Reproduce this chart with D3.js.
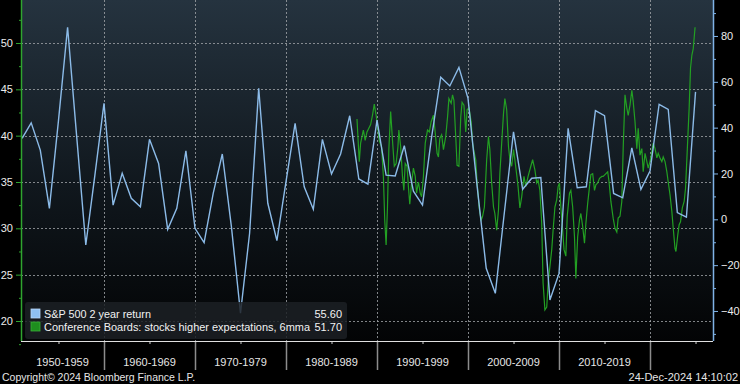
<!DOCTYPE html>
<html>
<head>
<meta charset="utf-8">
<script src="https://cdn.jsdelivr.net/npm/d3@7"></script>
<style>
  body { margin: 0; background: #000; }
  svg { display: block; font-family: "Liberation Sans", Arial, sans-serif; }
  .axis text { fill: #ececec; font-size: 11px; }
  .axis path.domain { display: none; }
</style>
</head>
<body>
<div id="chart"></div>
<script>
// S&P 500 2 year return, one value per calendar year (plotted at year end, right axis)
const spYears = [
  1950, 1951, 1952, 1953, 1954, 1955, 1956, 1957, 1958, 1959,
  1960, 1961, 1962, 1963, 1964, 1965, 1966, 1967, 1968, 1969,
  1970, 1971, 1972, 1973, 1974, 1975, 1976, 1977, 1978, 1979,
  1980, 1981, 1982, 1983, 1984, 1985, 1986, 1987, 1988, 1989,
  1990, 1991, 1992, 1993, 1994, 1995, 1996, 1997, 1998, 1999,
  2000, 2001, 2002, 2003, 2004, 2005, 2006, 2007, 2008, 2009,
  2010, 2011, 2012, 2013, 2014, 2015, 2016, 2017, 2018, 2019,
  2020, 2021, 2022, 2023, 2024
];
const spReturn = [
  35.3, 42.1, 30.2, 4.8, 43.2, 83.8, 36.1, -11.2, 19.3, 50.6,
  6.2, 20.1, 9.2, 5.5, 34.9, 24.4, -4.4, 4.8, 29.9, -3.9,
  -10.2, 11.3, 28.5, -3.2, -41.0, -6.1, 57.2, 7.0, -9.3, 16.4,
  41.9, 14.2, 4.4, 34.9, 19.8, 28.5, 45.2, 17.6, 15.4, 43.3,
  19.3, 18.9, 32.1, 12.3, 6.2, 35.9, 62.0, 58.2, 66.3, 52.8,
  14.5, -21.4, -32.3, 3.2, 38.2, 13.1, 17.9, 18.2, -35.2, -23.6,
  39.7, 13.8, 14.2, 47.4, 45.2, 11.3, 9.4, 31.2, 13.1, 21.1,
  50.2, 48.0, 2.9, 0.9, 55.6
];

// Conference Board: stocks higher expectations, 6mma (left axis), dates as decimal years
const cbDates = [
  1987.8, 1988.05, 1988.2, 1988.5, 1988.7, 1988.9, 1989.1, 1989.3, 1989.5, 1989.7,
  1989.9, 1990.0, 1990.25, 1990.5, 1990.7, 1990.85, 1991.0, 1991.15, 1991.3, 1991.5,
  1991.7, 1991.9, 1992.1, 1992.3, 1992.4, 1992.6, 1992.8, 1992.95, 1993.1, 1993.3,
  1993.45, 1993.6, 1993.8, 1994.0, 1994.2, 1994.35, 1994.55, 1994.75, 1994.9, 1995.1,
  1995.3, 1995.55, 1995.75, 1995.95, 1996.2, 1996.4, 1996.6, 1996.75, 1996.9, 1997.1,
  1997.3, 1997.55, 1997.75, 1997.9, 1998.15, 1998.3, 1998.45, 1998.65, 1998.8, 1999.0,
  1999.2, 1999.35, 1999.55, 1999.75, 1999.9, 2000.1, 2000.35, 2000.5, 2000.7, 2000.85,
  2001.0, 2001.25, 2001.45, 2001.6, 2001.8, 2002.05, 2002.25, 2002.4, 2002.6, 2002.8,
  2002.95, 2003.15, 2003.35, 2003.5, 2003.7, 2003.9, 2004.05, 2004.25, 2004.45, 2004.6,
  2004.8, 2005.0, 2005.15, 2005.35, 2005.5, 2005.7, 2005.9, 2006.15, 2006.35, 2006.6,
  2006.9, 2007.1, 2007.35, 2007.55, 2007.7, 2007.9, 2008.1, 2008.25, 2008.45, 2008.65,
  2008.8, 2009.0, 2009.2, 2009.35, 2009.55, 2009.75, 2009.9, 2010.05, 2010.2, 2010.35,
  2010.55, 2010.75, 2010.9, 2011.15, 2011.3, 2011.5, 2011.7, 2011.85, 2012.05, 2012.25,
  2012.4, 2012.6, 2012.8, 2012.95, 2013.15, 2013.35, 2013.5, 2013.7, 2013.9, 2014.05,
  2014.25, 2014.45, 2014.7, 2014.85, 2015.05, 2015.35, 2015.5, 2015.7, 2015.95, 2016.15,
  2016.35, 2016.5, 2016.7, 2016.9, 2017.05, 2017.25, 2017.45, 2017.6, 2017.8, 2018.0,
  2018.15, 2018.35, 2018.55, 2018.7, 2018.9, 2019.1, 2019.25, 2019.45, 2019.65, 2019.8,
  2020.0, 2020.2, 2020.35, 2020.55, 2020.75, 2020.9, 2021.1, 2021.3, 2021.45, 2021.65,
  2021.85, 2022.0, 2022.2, 2022.4, 2022.55, 2022.75, 2022.85, 2023.05, 2023.2, 2023.35,
  2023.55, 2023.75, 2023.9, 2024.1, 2024.3, 2024.45, 2024.6, 2024.75, 2024.95
];
const cbValues = [
  41.8, 37.2, 39.2, 40.6, 39.5, 40.4, 40.8, 41.2, 42.2, 43.4,
  42.2, 41.5, 39.4, 38.8, 35.6, 30.9, 28.2, 32.3, 38.5, 42.6,
  39.5, 36.7, 37.0, 38.8, 40.6, 38.8, 35.6, 34.1, 37.0, 36.7,
  34.5, 32.6, 34.9, 36.5, 35.6, 33.8, 35.0, 33.8, 33.4, 35.6,
  39.2, 40.6, 40.4, 41.5, 42.2, 40.3, 38.1, 37.7, 39.7, 40.1,
  38.5, 39.9, 42.0, 44.0, 43.5, 44.4, 43.8, 39.9, 36.8, 36.7,
  42.0, 43.6, 43.3, 40.4, 42.8, 43.0, 41.5, 39.2, 38.1, 37.4,
  34.9, 32.0, 30.9, 31.3, 32.3, 37.4, 39.9, 38.5, 34.9, 32.3,
  31.6, 29.8, 32.0, 35.9, 39.2, 42.4, 44.0, 42.8, 38.8, 37.4,
  36.7, 38.5, 37.4, 35.8, 34.5, 32.2, 33.4, 35.6, 34.5, 35.6,
  36.7, 37.4, 36.3, 34.9, 35.2, 34.1, 30.5, 24.1, 21.2, 21.5,
  24.1, 25.9, 27.7, 29.8, 32.3, 33.1, 34.5, 34.9, 32.3, 30.5,
  27.7, 27.0, 31.3, 33.8, 34.1, 32.3, 29.1, 24.6, 29.1, 30.9,
  31.6, 30.2, 28.4, 30.5, 32.7, 34.5, 35.8, 35.9, 34.1, 34.7,
  34.9, 35.4, 35.6, 35.6, 35.8, 36.1, 35.0, 32.9, 31.1, 30.0,
  29.6, 31.1, 31.3, 32.9, 38.6, 44.4, 43.0, 42.2, 43.3, 44.9,
  43.7, 41.5, 38.6, 40.8, 37.9, 38.6, 36.1, 38.1, 37.2, 36.5,
  37.2, 38.3, 39.2, 38.6, 37.6, 38.1, 37.6, 37.2, 37.7, 37.2,
  36.1, 35.0, 33.6, 31.8, 30.0, 27.8, 27.5, 29.3, 30.4, 30.7,
  32.2, 32.9, 34.3, 38.6, 43.0, 47.3, 48.7, 49.4, 51.7
];

const decadeStarts = [1950, 1960, 1970, 1980, 1990, 2000, 2010, 2020];
const decadeLabels = ['1950-1959', '1960-1969', '1970-1979', '1980-1989', '1990-1999', '2000-2009', '2010-2019'];
const leftTicks = [20, 25, 30, 35, 40, 45, 50];
const leftMinor = [17.5, 22.5, 27.5, 32.5, 37.5, 42.5, 47.5, 52.5];
const rightTicks = [-40, -20, 0, 20, 40, 60, 80];
const rightMinor = [-50, -30, -10, 10, 30, 50, 70, 90];

const legendItems = [
  { name: 'S&P 500 2 year return', value: '55.60', color: '#8fc0f2', border: '#b8d8f8', textWidth: 107 },
  { name: 'Conference Boards: stocks higher expectations, 6mma', value: '51.70', color: '#1e8e1e', border: '#39b039', textWidth: 266 }
];

const W = 740, H = 384;
const margins = { top: 0, right: 27, bottom: 43, left: 21 };
const width = W - margins.left - margins.right;
const height = H - margins.top - margins.bottom;

const svg = d3.select('#chart').append('svg')
  .attr('width', W)
  .attr('height', H);

svg.append('rect').attr('width', W).attr('height', H).attr('fill', '#000');

const grad = svg.append('defs').append('linearGradient')
  .attr('id', 'bg').attr('x1', 0).attr('y1', 0).attr('x2', 0).attr('y2', 1);
grad.append('stop').attr('offset', '0%').attr('stop-color', '#25333f');
grad.append('stop').attr('offset', '55%').attr('stop-color', '#10171d');
grad.append('stop').attr('offset', '100%').attr('stop-color', '#030405');

const x = d3.scaleLinear().domain([1950.88, 2026.92]).range([0, width]);
const yL = d3.scaleLinear().domain([17.84, 54.64]).range([height, 0]);
const yR = d3.scaleLinear().domain([-53.1, 95.7]).range([height, 0]);

const vis = svg.append('g')
  .attr('transform', 'translate(' + margins.left + ',' + margins.top + ')');

vis.append('rect')
  .attr('width', width)
  .attr('height', height)
  .attr('fill', 'url(#bg)');

// dotted grid
vis.append('g')
  .selectAll('line.h')
  .data(leftTicks)
  .enter()
  .append('line')
  .attr('x1', 0).attr('x2', width)
  .attr('y1', d => Math.round(yL(d)) + 0.5)
  .attr('y2', d => Math.round(yL(d)) + 0.5)
  .attr('stroke', '#a0a4a8')
  .attr('stroke-dasharray', '2,2')
  .attr('stroke-opacity', 0.8);

vis.append('g')
  .selectAll('line.v')
  .data(decadeStarts.slice(1))
  .enter()
  .append('line')
  .attr('y1', 0).attr('y2', height)
  .attr('x1', d => Math.round(x(d)) + 0.5)
  .attr('x2', d => Math.round(x(d)) + 0.5)
  .attr('stroke', '#a0a4a8')
  .attr('stroke-dasharray', '2,2')
  .attr('stroke-opacity', 0.8);

// series
const spData = spYears.map((yr, i) => ({ t: yr + 1, v: spReturn[i] }));
const cbData = cbDates.map((t, i) => ({ t: t, v: cbValues[i] }));

vis.append('path')
  .datum(cbData)
  .attr('fill', 'none')
  .attr('stroke', '#23a023')
  .attr('stroke-width', 1.2)
  .attr('d', d3.line().x(d => x(d.t)).y(d => yL(d.v)));

vis.append('path')
  .datum(spData)
  .attr('fill', 'none')
  .attr('stroke', '#8cbbe8')
  .attr('stroke-width', 1.4)
  .attr('d', d3.line().x(d => x(d.t)).y(d => yR(d.v)));

// left axis (green)
const leftAxis = vis.append('g').attr('class', 'axis')
  .call(d3.axisLeft(yL).tickValues(leftTicks).tickSize(5).tickPadding(3));
leftAxis.selectAll('line').attr('stroke', '#2fa52f');
vis.append('g').attr('class', 'axis')
  .call(d3.axisLeft(yL).tickValues(leftMinor).tickSize(2).tickFormat(''))
  .selectAll('line').attr('stroke', '#2fa52f');
vis.append('line')
  .attr('x1', 0.5).attr('x2', 0.5).attr('y1', 0).attr('y2', height)
  .attr('stroke', '#2fa52f').attr('stroke-width', 1.5);

// right axis (blue)
const rightAxis = vis.append('g').attr('class', 'axis')
  .attr('transform', 'translate(' + width + ',0)')
  .call(d3.axisRight(yR).tickValues(rightTicks).tickSize(5).tickPadding(3));
rightAxis.selectAll('line').attr('stroke', '#7fb2e6');
vis.append('g').attr('class', 'axis')
  .attr('transform', 'translate(' + width + ',0)')
  .call(d3.axisRight(yR).tickValues(rightMinor).tickSize(3).tickFormat(''))
  .selectAll('line').attr('stroke', '#7fb2e6');
vis.append('line')
  .attr('x1', width + 0.5).attr('x2', width + 0.5).attr('y1', 0).attr('y2', height)
  .attr('stroke', '#7fb2e6').attr('stroke-width', 1.5);

// bottom axis
const xAxis = vis.append('g').attr('class', 'axis')
  .attr('transform', 'translate(0,' + height + ')')
  .call(d3.axisBottom(x).tickValues(decadeStarts.map(d => d + 5)).tickSize(3).tickFormat(''));
xAxis.selectAll('line').attr('stroke', '#d0d0d0');
vis.append('line')
  .attr('x1', 0).attr('x2', width)
  .attr('y1', height + 0.5).attr('y2', height + 0.5)
  .attr('stroke', '#e0e0e0').attr('stroke-width', 1.2);

vis.append('g')
  .selectAll('line')
  .data(decadeStarts.slice(1))
  .enter()
  .append('line')
  .attr('x1', d => Math.round(x(d)) + 0.5)
  .attr('x2', d => Math.round(x(d)) + 0.5)
  .attr('y1', height + 1).attr('y2', height + 29)
  .attr('stroke', '#8c8c8c').attr('stroke-width', 1.5);

vis.append('g')
  .selectAll('text')
  .data(decadeLabels)
  .enter()
  .append('text')
  .attr('x', (d, i) => {
    const a = Math.max(x(decadeStarts[i]), 0);
    const b = Math.min(x(decadeStarts[i + 1]), width);
    return (a + b) / 2;
  })
  .attr('y', height + 25)
  .attr('text-anchor', 'middle')
  .attr('fill', '#e6e6e6')
  .style('font-size', '11px')
  .text(d => d);

// legend
const legend = vis.append('g')
  .attr('transform', 'translate(4,302)');
legend.append('rect')
  .attr('width', 322).attr('height', 37).attr('rx', 3)
  .attr('fill', '#1c2024').attr('fill-opacity', 0.85);
legendItems.forEach(function (d, i) {
  legend.append('rect')
    .attr('x', 6).attr('y', 7 + i * 13)
    .attr('width', 9).attr('height', 9)
    .attr('fill', d.color)
    .attr('stroke', d.border).attr('stroke-width', 0.8);
  legend.append('text')
    .attr('x', 19).attr('y', 16 + i * 13)
    .attr('fill', '#f2f2f2')
    .attr('textLength', d.textWidth)
    .attr('lengthAdjust', 'spacingAndGlyphs')
    .style('font-size', '11px')
    .text(d.name);
  legend.append('text')
    .attr('x', 317).attr('y', 16 + i * 13)
    .attr('text-anchor', 'end')
    .attr('fill', '#f2f2f2')
    .style('font-size', '11px')
    .text(d.value);
});

// footer
svg.append('text')
  .attr('x', 2).attr('y', 381)
  .attr('fill', '#e6e6e6')
  .style('font-size', '10.5px')
  .text('Copyright\u00a9 2024 Bloomberg Finance L.P.');
svg.append('text')
  .attr('x', 738).attr('y', 381)
  .attr('text-anchor', 'end')
  .attr('fill', '#e6e6e6')
  .style('font-size', '11px')
  .text('24-Dec-2024 14:10:02');
</script>
</body>
</html>
